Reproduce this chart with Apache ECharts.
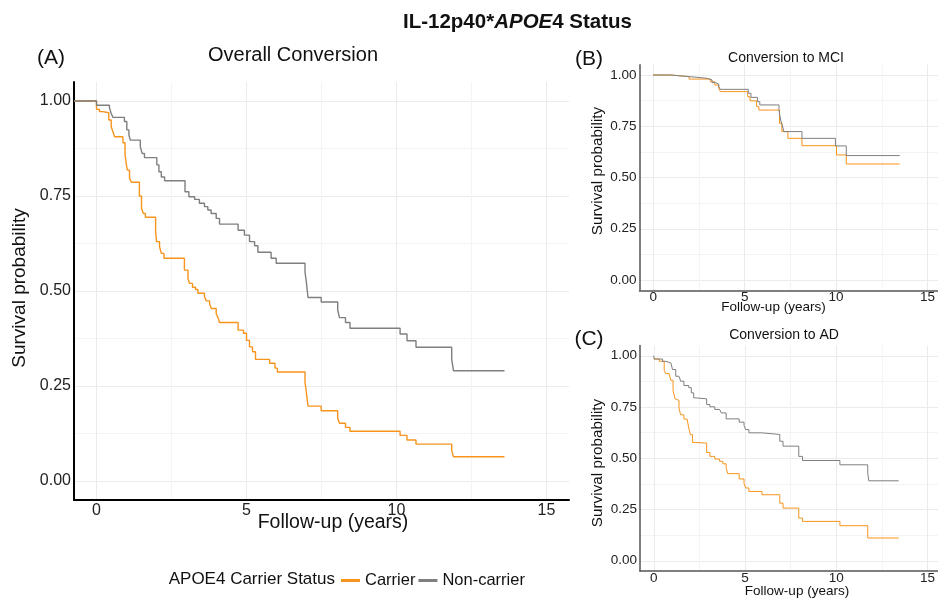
<!DOCTYPE html>
<html>
<head>
<meta charset="utf-8">
<script src="https://cdn.jsdelivr.net/npm/echarts@6/dist/echarts.min.js"></script>
<style>
  html, body { margin: 0; padding: 0; background: #fff; }
  #chart { width: 938px; height: 600px; }
</style>
</head>
<body>
<div id="chart"></div>
<script>
// Kaplan-Meier steps: [years, survival]
const overallCarrier = [
  [-0.75, 1], [0, 0.978], [0.1, 0.972], [0.21, 0.969], [0.41, 0.95], [0.49, 0.932], [0.55, 0.919],
  [0.6, 0.906], [0.88, 0.89], [0.95, 0.86], [1.0, 0.83], [1.03, 0.818], [1.1, 0.797], [1.16, 0.786],
  [1.43, 0.75], [1.5, 0.718], [1.56, 0.704], [1.63, 0.694], [1.97, 0.66], [2.0, 0.63], [2.1, 0.617],
  [2.16, 0.599], [2.25, 0.586], [2.93, 0.555], [3.05, 0.533], [3.1, 0.52], [3.2, 0.51], [3.3, 0.504],
  [3.38, 0.494], [3.6, 0.485], [3.66, 0.474], [3.77, 0.466], [3.83, 0.454], [3.99, 0.44], [4.05, 0.43],
  [4.1, 0.417], [4.72, 0.397], [4.9, 0.389], [5.0, 0.37], [5.1, 0.353], [5.2, 0.34], [5.3, 0.32],
  [5.77, 0.31], [5.95, 0.297], [6.03, 0.287], [6.95, 0.26], [7.0, 0.23], [7.05, 0.197], [7.49, 0.185],
  [8.04, 0.165], [8.1, 0.152], [8.3, 0.141], [8.45, 0.131], [10.12, 0.12], [10.35, 0.108], [10.65, 0.097],
  [11.84, 0.08], [11.9, 0.064], [13.6, 0.064]
];
const overallNonCarrier = [
  [-0.75, 1], [0, 0.989], [0.43, 0.983], [0.49, 0.967], [0.55, 0.957], [0.93, 0.946], [1.01, 0.924],
  [1.08, 0.91], [1.13, 0.897], [1.46, 0.88], [1.52, 0.862], [1.6, 0.851], [2.01, 0.832], [2.08, 0.814],
  [2.16, 0.8], [2.27, 0.79], [2.95, 0.761], [3.08, 0.748], [3.27, 0.741], [3.43, 0.731], [3.6, 0.722],
  [3.71, 0.713], [3.82, 0.704], [3.99, 0.691], [4.1, 0.676], [4.72, 0.66], [4.93, 0.647], [5.1, 0.63],
  [5.27, 0.619], [5.38, 0.602], [5.82, 0.586], [5.99, 0.573], [6.95, 0.55], [7.0, 0.52], [7.05, 0.483],
  [7.49, 0.471], [8.04, 0.45], [8.1, 0.43], [8.3, 0.417], [8.45, 0.402], [10.12, 0.387], [10.35, 0.369],
  [10.65, 0.352], [11.84, 0.32], [11.9, 0.29], [13.6, 0.29]
];
const mciCarrier = [
  [0, 1], [0.99, 0.992], [1.99, 0.98], [3.17, 0.967], [3.41, 0.951], [3.63, 0.935], [3.72, 0.919],
  [5.23, 0.894], [5.36, 0.874], [5.72, 0.846], [5.85, 0.829], [6.99, 0.764], [7.12, 0.724], [7.45, 0.691],
  [8.23, 0.655], [10.14, 0.61], [10.68, 0.566], [13.63, 0.566]
];
const mciNonCarrier = [
  [0, 1], [0.99, 0.992], [1.99, 0.984], [2.99, 0.976], [3.26, 0.963], [3.45, 0.956], [3.63, 0.943],
  [3.72, 0.93], [5.26, 0.911], [5.41, 0.891], [5.77, 0.87], [5.9, 0.854], [6.96, 0.829], [7.05, 0.78],
  [7.14, 0.756], [7.23, 0.724], [8.23, 0.691], [10.08, 0.654], [10.68, 0.607], [13.63, 0.607]
];
const adCarrier = [
  [0, 0.984], [0.32, 0.973], [0.59, 0.929], [0.68, 0.913], [0.86, 0.905], [0.96, 0.88], [1.08, 0.831],
  [1.19, 0.79], [1.25, 0.782], [1.41, 0.745], [1.5, 0.712], [1.68, 0.691], [1.86, 0.684], [1.95, 0.647],
  [2.04, 0.615], [2.16, 0.577], [2.31, 0.574], [2.94, 0.528], [3.12, 0.509], [3.39, 0.496], [3.66, 0.485],
  [3.84, 0.473], [4.02, 0.452], [4.11, 0.425], [4.74, 0.399], [5.01, 0.376], [5.1, 0.355], [5.28, 0.338],
  [6.0, 0.322], [6.99, 0.281], [7.17, 0.257], [8.04, 0.208], [8.25, 0.192], [10.32, 0.171], [11.86, 0.111],
  [13.57, 0.111]
];
const adNonCarrier = [
  [0, 1], [0.05, 0.984], [0.5, 0.973], [0.68, 0.965], [0.96, 0.957], [1.05, 0.933], [1.23, 0.9],
  [1.41, 0.892], [1.5, 0.876], [1.68, 0.855], [1.95, 0.844], [2.09, 0.819], [2.22, 0.795], [2.31, 0.79],
  [2.94, 0.762], [3.12, 0.751], [3.39, 0.738], [3.66, 0.734], [3.75, 0.721], [4.02, 0.692], [4.74, 0.676],
  [5.01, 0.66], [5.1, 0.64], [5.28, 0.624], [6.0, 0.616], [6.99, 0.583], [7.17, 0.559], [8.04, 0.509],
  [8.25, 0.489], [10.32, 0.468], [11.86, 0.428], [11.92, 0.39], [13.57, 0.39]
];
const groups = ["Carrier", "Non-carrier"];
const colors = ["#f7941d", "#7f7f7f"];

// panel boxes: outer box = -0.75..15.75 years, -0.05..1.05 survival (ggplot expand)
const panels = [
  { left: 74, top: 82, ppy: 30, ppu: 380, axisColor: "#000", axisWidth: 2, font: 16, xMargin: 3, lineW: 1.4, data: [overallCarrier, overallNonCarrier] },
  { left: 639.5, top: 64.75, ppy: 18.33, ppu: 205, axisColor: "#555", axisWidth: 1.5, font: 13.5, xMargin: 0, lineW: 1, data: [mciCarrier, mciNonCarrier] },
  { left: 640, top: 345.5, ppy: 18.5, ppu: 205, axisColor: "#555", axisWidth: 1.5, font: 13.5, xMargin: 0, lineW: 1, data: [adCarrier, adNonCarrier] }
];

const grid = [], xAxis = [], yAxis = [], series = [];
const hidden = { show: false };
const majorColor = "#ebebeb", minorColor = "#f4f4f4";

panels.forEach((p) => {
  const w = 16.5 * p.ppy, h = 1.1 * p.ppu;
  const g0 = grid.length;
  const axisLine = { show: true, onZero: false, lineStyle: { color: p.axisColor, width: p.axisWidth } };
  // outer grid: axis lines + curves
  grid.push({ left: p.left, top: p.top, width: w, height: h, containLabel: false });
  xAxis.push({
    gridIndex: g0, type: "value", min: -0.75, max: 15.75,
    axisLine: axisLine, axisTick: hidden, axisLabel: hidden, splitLine: hidden
  });
  yAxis.push({
    gridIndex: g0, type: "value", min: -0.05, max: 1.05,
    axisLine: axisLine, axisTick: hidden, axisLabel: hidden, splitLine: hidden
  });
  // x tick grid: 0..15 years, full height
  grid.push({ left: p.left + 0.75 * p.ppy, top: p.top, width: 15 * p.ppy, height: h, containLabel: false });
  xAxis.push({
    gridIndex: g0 + 1, type: "value", min: 0, max: 15, interval: 5,
    axisLine: { show: false, onZero: false }, axisTick: hidden,
    axisLabel: { fontSize: p.font, color: "#222", margin: p.xMargin, fontFamily: "Liberation Sans" },
    splitLine: { show: true, lineStyle: { color: majorColor, width: 1 } },
    minorTick: { show: false, splitNumber: 2 },
    minorSplitLine: { show: true, lineStyle: { color: minorColor, width: 1 } }
  });
  yAxis.push({ gridIndex: g0 + 1, type: "value", min: 0, max: 1, show: false });
  // y tick grid: 0..1, full width
  grid.push({ left: p.left, top: p.top + 0.05 * p.ppu, width: w, height: p.ppu, containLabel: false });
  xAxis.push({ gridIndex: g0 + 2, type: "value", min: 0, max: 1, show: false });
  yAxis.push({
    gridIndex: g0 + 2, type: "value", min: 0, max: 1, interval: 0.25,
    axisLine: { show: false, onZero: false }, axisTick: hidden,
    axisLabel: { fontSize: p.font, color: "#222", margin: 3, fontFamily: "Liberation Sans", formatter: (v) => v.toFixed(2) },
    splitLine: { show: true, lineStyle: { color: majorColor, width: 1 } },
    minorTick: { show: false, splitNumber: 2 },
    minorSplitLine: { show: true, lineStyle: { color: minorColor, width: 1 } }
  });
  p.data.forEach((d, i) => {
    series.push({
      name: groups[i], type: "line", step: "end", data: d,
      xAxisIndex: g0, yAxisIndex: g0,
      symbol: "none", color: colors[i],
      lineStyle: { color: colors[i], width: p.lineW }
    });
  });
});

const txt = (text, x, y, size, opts) => Object.assign({
  type: "text", x: x, y: y, silent: true,
  style: { text: text, fontSize: size, fontFamily: "Liberation Sans", fill: "#111", align: "center", verticalAlign: "middle" }
}, opts || {});

const chart = echarts.init(document.getElementById("chart"), null, { renderer: "canvas" });
chart.setOption({
  animation: false,
  backgroundColor: "#fff",
  title: {
    text: "{a|IL-12p40*}{b|APOE}{a|4 Status}",
    left: 398, top: 7,
    textStyle: {
      rich: {
        a: { fontSize: 20.5, fontWeight: "bold", fontFamily: "Liberation Sans", color: "#111" },
        b: { fontSize: 20.5, fontWeight: "bold", fontStyle: "italic", fontFamily: "Liberation Sans", color: "#111" }
      }
    }
  },
  legend: {
    data: groups, left: 336, top: 567,
    icon: "rect", itemWidth: 19, itemHeight: 3, itemGap: 3,
    textStyle: { fontSize: 16.5, fontFamily: "Liberation Sans", color: "#111" }
  },
  graphic: [
    txt("(A)", 51, 58, 21),
    txt("Overall Conversion", 293, 55, 20),
    txt("(B)", 589, 59, 21),
    txt("Conversion to MCI", 786, 58, 14),
    txt("(C)", 589, 339, 21),
    txt("Conversion to AD", 784, 335, 14),
    txt("Follow-up (years)", 333, 523, 19.5),
    txt("Survival probability", 20, 288, 19, { rotation: Math.PI / 2 }),
    txt("Follow-up (years)", 773.5, 307.5, 13.5),
    txt("Survival probability", 597.5, 171, 15.3, { rotation: Math.PI / 2 }),
    txt("Follow-up (years)", 797, 591, 13.5),
    txt("Survival probability", 597.5, 463, 15.3, { rotation: Math.PI / 2 }),
    {
      type: "text", x: 335, y: 579, silent: true,
      style: { text: "APOE4 Carrier Status", fontSize: 17, fontFamily: "Liberation Sans", fill: "#111", align: "right", verticalAlign: "middle" }
    }
  ],
  grid: grid,
  xAxis: xAxis,
  yAxis: yAxis,
  series: series
});
</script>
</body>
</html>
